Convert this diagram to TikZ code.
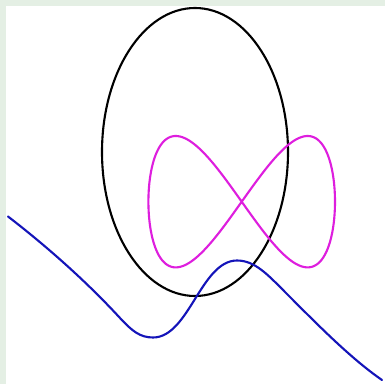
\documentclass[tikz,border=0pt]{standalone}
\definecolor{bordergreen}{RGB}{228,239,228}
\definecolor{curveblue}{RGB}{20,20,185}
\definecolor{curvemag}{RGB}{222,30,222}
\begin{document}
\begin{tikzpicture}[x=0.02cm,y=-0.02cm,
  curve/.style={line width=1.2pt,line join=round,line cap=round}]
\useasboundingbox (0,0) rectangle (385,384);
\fill[bordergreen] (0,0) rectangle (385,384);
\fill[white] (6,6) rectangle (385,384);
% ellipse
\draw[curve,black] (195,152) ellipse [x radius=93, y radius=144];
% figure eight
\draw[curve,curvemag] plot[domain=0:360,samples=240,smooth]
  ({241.7+93.3*sin(\x)},{201.7-65.7*sin(2*\x)}) -- cycle;
% wavy line
\draw[curve,curveblue] (8,216.5)
  .. controls (45,245) and (85,280) .. (120,318)
  .. controls (132,331) and (140,337.5) .. (153,337.5)
  .. controls (189,337.5) and (201,260.5) .. (237,260.5)
  .. controls (255,260.5) and (268,275) .. (285,292)
  .. controls (315,322) and (350,358) .. (382,380);
\end{tikzpicture}
\end{document}
